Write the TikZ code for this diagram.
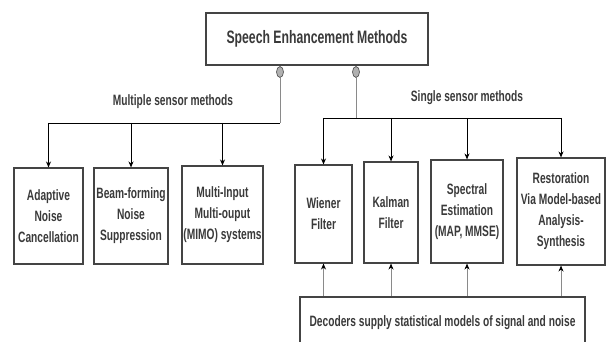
\documentclass[tikz,border=0pt]{standalone}
\usepackage{fontspec}
\usetikzlibrary{arrows.meta,shapes.geometric}
\newfontfamily\dfont{Liberation Sans}[FakeStretch=0.68]
\definecolor{ink}{HTML}{3A3A3A}
\definecolor{edge}{HTML}{444444}
\definecolor{stem}{HTML}{8A8A8A}
\definecolor{knob}{HTML}{B0B0B0}
\tikzset{
  box/.style={draw=edge, line width=1.1pt, fill=white, inner sep=0pt,
    align=center, text=ink, font=\dfont\bfseries\fontsize{15}{21}\selectfont},
  dot/.style={ellipse, draw=edge, fill=knob, line width=0.6pt,
    minimum width=7pt, minimum height=11pt, inner sep=0pt},
  bus/.style={draw=black, line width=0.9pt},
  stemline/.style={draw=stem, line width=1pt},
  arr/.style={line width=0.9pt, -{Stealth[length=6pt,width=5pt]}},
  lbl/.style={text=ink, font=\dfont\bfseries\fontsize{15}{18}\selectfont, inner sep=0pt},
}
\begin{document}
\begin{tikzpicture}[x=1pt, y=-1pt]
\useasboundingbox (0,0) rectangle (606,342);

% root
\node[box, minimum width=222pt, minimum height=52pt,
      font=\dfont\bfseries\fontsize{18}{22}\selectfont] (root) at (317,39) {Speech Enhancement Methods};

% junction knobs under the root box
\node[dot] (cL) at (280,72) {};
\node[dot] (cR) at (356,72) {};

% multiple sensor branch
\node[box, minimum width=69pt, minimum height=96pt] (b1) at (48.5,216) {Adaptive\\Noise\\Cancellation};
\node[box, minimum width=74pt, minimum height=96pt] (b2) at (131,216) {Beam-forming\\Noise\\Suppression};
\node[box, minimum width=81pt, minimum height=98pt] (b3) at (222.5,215) {Multi-Input\\Multi-ouput\\(MIMO) systems};

% single sensor branch
\node[box, minimum width=57pt, minimum height=98pt] (w) at (323.5,214) {Wiener\\Filter};
\node[box, minimum width=54pt, minimum height=101pt] (k) at (391,212.5) {Kalman\\Filter};
\node[box, minimum width=72pt, minimum height=103pt] (s) at (467,211.5) {Spectral\\Estimation\\(MAP, MMSE)};
\node[box, minimum width=88pt, minimum height=107pt] (r) at (561,211.5) {Restoration\\Via Model-based\\Analysis-\\Synthesis};

% decoder box along the bottom
\node[box, minimum width=285pt, minimum height=52pt] (dec) at (442.5,323) {Decoders supply statistical models of signal and noise};

% branch labels
\node[lbl] (mlab) at (173,102) {Multiple sensor methods};
\node[lbl] (slab) at (467,98) {Single sensor methods};

% bus levels
\coordinate (busL) at (0,123);
\coordinate (busR) at (0,118);

% left tree
\draw[stemline] (cL.south) -- (cL.south |- busL);
\draw[bus] (b1.north |- busL) -- (cL.south |- busL);
\foreach \n in {b1,b2,b3}
  \draw[bus, arr] (\n.north |- busL) -- (\n.north);

% right tree
\draw[stemline] (cR.south) -- (cR.south |- busR);
\draw[bus] (w.north |- busR) -- (r.north |- busR);
\foreach \n in {w,k,s,r}
  \draw[bus, arr] (\n.north |- busR) -- (\n.north);

% feeds from the decoder box
\foreach \n in {w,k,s,r}
  \draw[stemline, arr, {Stealth[length=6pt,width=5pt,color=black]}-] (\n.south) -- (\n.south |- dec.north);
\end{tikzpicture}
\end{document}
